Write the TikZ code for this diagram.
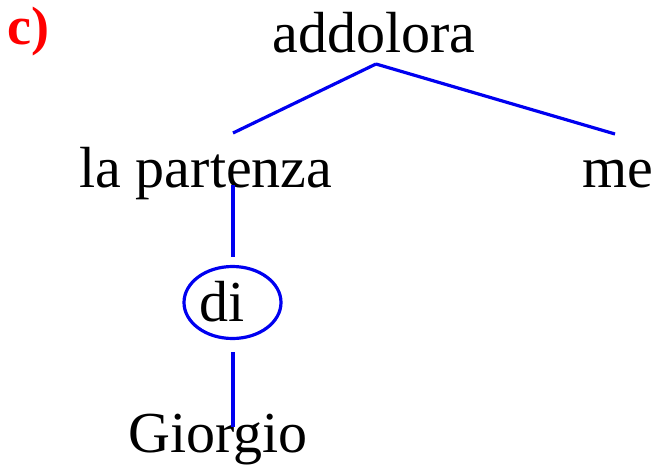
\documentclass[tikz,border=0pt]{standalone}
\usepackage{fontspec}
\setmainfont{Liberation Serif}
\begin{document}
\begin{tikzpicture}[x=1pt,y=-1pt,
  word/.style={anchor=base,inner sep=0pt,font=\fontsize{58}{60}\selectfont},
  edge/.style={draw={rgb,255:red,0;green,0;blue,240},line width=3.2pt}]
\useasboundingbox (0,0) rectangle (656,468);
\node[anchor=base west,inner sep=0pt,text={rgb,255:red,255;green,0;blue,0},font=\fontsize{54}{56}\selectfont\bfseries] (lab) at (7,45) {c)};
\node[word] (add) at (374,53) {addolora};
\node[word] (part) at (206,187) {la partenza};
\node[word] (me) at (618,187) {me};
\node[word] (di) at (222,321) {di};
\node[word] (gio) at (218,452) {Giorgio};
\coordinate (dc) at (232.5,302.5);
\draw[edge] (dc) ellipse [x radius=48.5, y radius=36];
\coordinate (a0) at (376,64);
\coordinate (a1) at (233,133);
\coordinate (a2) at (615,134);
\coordinate (p0) at (233,185);
\coordinate (p1) at (233,257);
\coordinate (d0) at (233,352);
\coordinate (d1) at (233,427);
\draw[edge] (a0) -- (a1);
\draw[edge] (a0) -- (a2);
\draw[edge] (p0) -- (p1);
\draw[edge] (d0) -- (d1);
\end{tikzpicture}
\end{document}
